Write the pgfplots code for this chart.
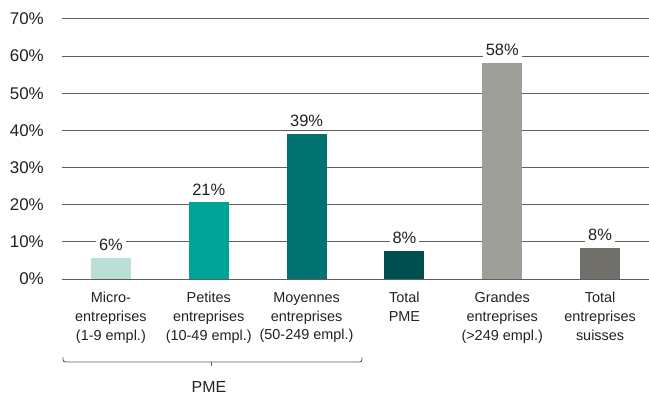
\documentclass[border=0pt]{standalone}
\usepackage{pgfplots}
\pgfplotsset{compat=1.18}
\usepackage{fontspec}
\setmainfont{Liberation Sans}

\definecolor{txt}{HTML}{222222}
\definecolor{gridc}{HTML}{5E5E5E}
\definecolor{cMicro}{HTML}{B9DFD7}
\definecolor{cPetites}{HTML}{00A496}
\definecolor{cMoyennes}{HTML}{007370}
\definecolor{cTotPME}{HTML}{004F4F}
\definecolor{cGrandes}{HTML}{9E9F99}
\definecolor{cTotal}{HTML}{706F69}

\pgfplotsset{
  valbar/.style={ybar, bar width=40bp, draw=none, fill=#1,
    nodes near coords={\pgfmathprintnumber[fixed,precision=0]{\pgfplotspointmeta}\%},
    every node near coord/.style={anchor=south, yshift=5.5bp, fill=white,
      inner xsep=3bp, inner ysep=1.5bp, text=txt,
      font=\fontsize{16.5}{18}\selectfont}},
}

\begin{document}
\begin{tikzpicture}
\useasboundingbox (-62bp,-115bp) rectangle (587bp,279bp);
\begin{axis}[
  scale only axis,
  width=587bp, height=260bp,
  xmin=-0.5, xmax=5.5,
  ymin=0, ymax=70,
  ytick={0,10,...,70},
  yticklabel={\pgfmathprintnumber{\tick}\%},
  /pgf/number format/assume math mode=true,
  xtick={0,1,2,3,4,5},
  xticklabels={
    {Micro-\\entreprises\\(1-9 empl.)},
    {Petites\\entreprises\\(10-49 empl.)},
    {Moyennes\\entreprises\\(50-249 empl.)},
    {Total\\PME},
    {Grandes\\entreprises\\(>249 empl.)},
    {Total\\entreprises\\suisses}},
  xticklabel style={align=center, anchor=north, inner sep=0pt, text=txt,
    font=\fontsize{14.5}{19}\selectfont},
  xticklabel shift=13bp,
  yticklabel style={anchor=east, inner sep=0pt, text=txt,
    font=\fontsize{17}{19}\selectfont},
  yticklabel shift=18bp,
  major tick length=0pt,
  tick style={draw=none},
  axis line style={draw=none},
  ymajorgrids,
  grid style={draw=gridc, line width=1bp},
  clip=false,
]
% one bar per category, coloured individually
\addplot[valbar=cMicro]    coordinates {(0,5.7)};
\addplot[valbar=cPetites]  coordinates {(1,20.6)};
\addplot[valbar=cMoyennes] coordinates {(2,39.1)};
\addplot[valbar=cTotPME]   coordinates {(3,7.6)};
\addplot[valbar=cGrandes]  coordinates {(4,58.2)};
\addplot[valbar=cTotal]    coordinates {(5,8.3)};
\end{axis}
% bracket grouping the SME size classes
\draw[gridc, line width=0.9bp, rounded corners=2.5bp]
  (1bp,-78bp) -- (1bp,-83bp) -- (300bp,-83bp) -- (300bp,-78bp);
\draw[gridc, line width=0.9bp] (149.5bp,-83bp) -- (149.5bp,-87bp);
\node[anchor=base, inner sep=0pt, text=txt, font=\fontsize{16}{18}\selectfont]
  at (147bp,-113bp) {PME};
\end{tikzpicture}
\end{document}
